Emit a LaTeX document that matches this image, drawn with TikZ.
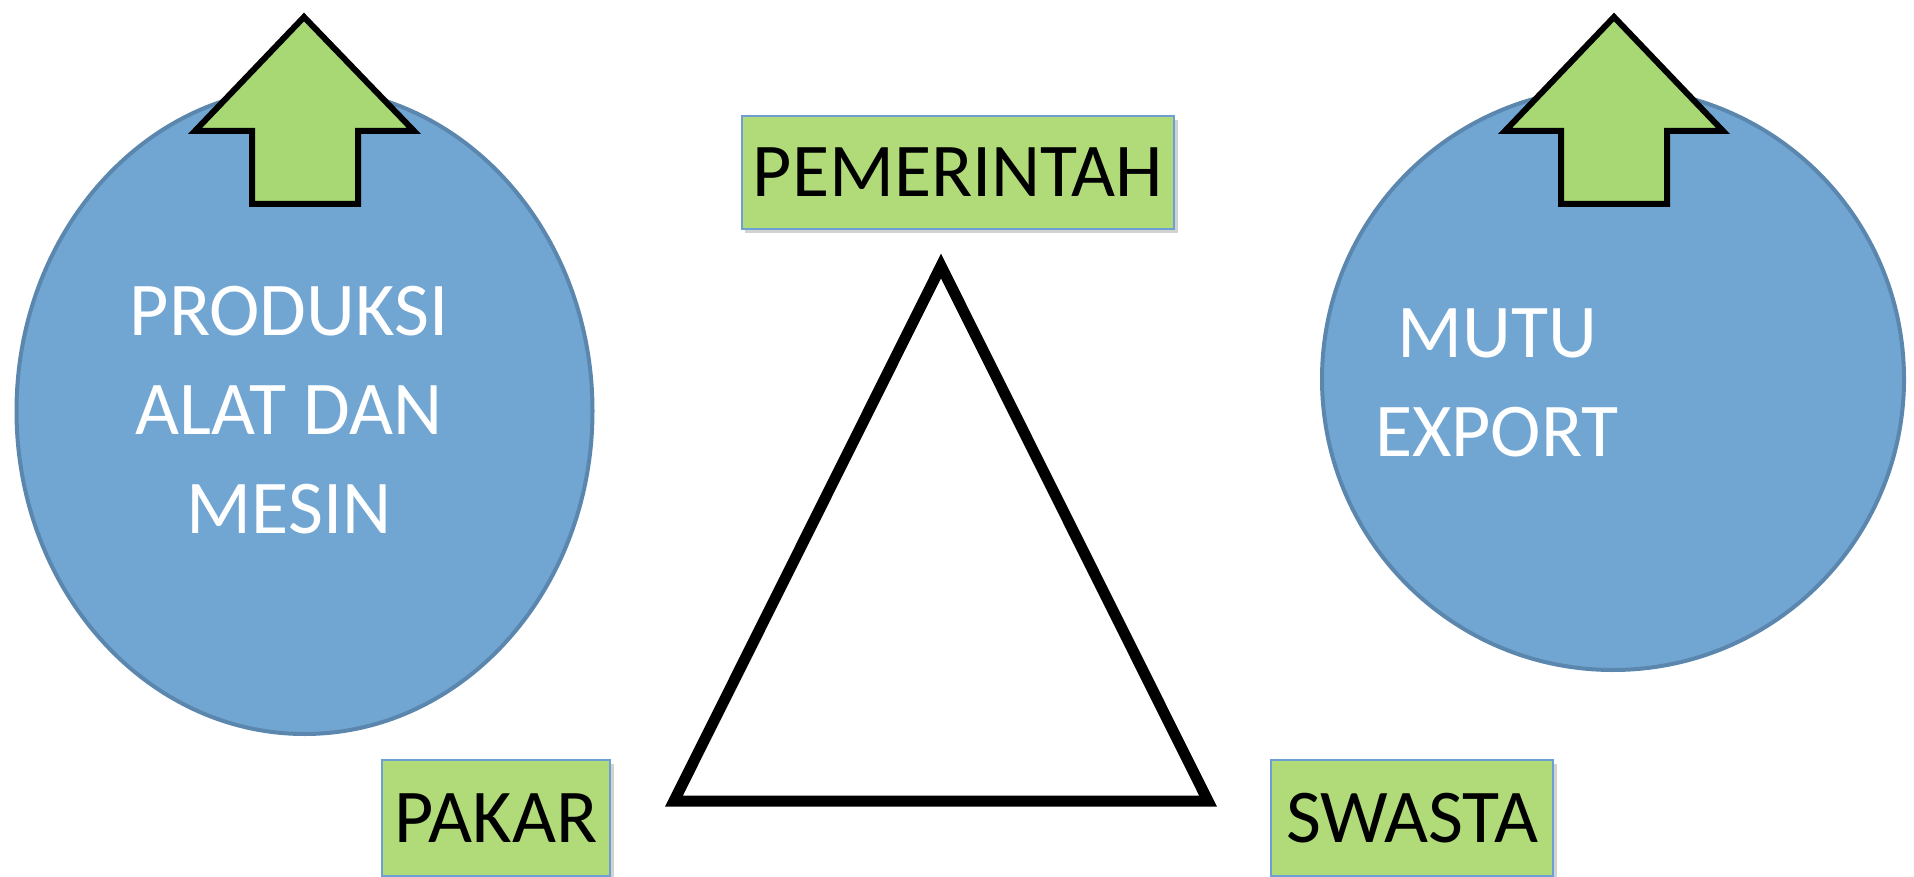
\documentclass[tikz,border=0pt]{standalone}
\usepackage{fontspec}
\setmainfont{Carlito}
\definecolor{ellfill}{HTML}{71A6D2}
\definecolor{elldraw}{HTML}{5B87AE}
\definecolor{arrfill}{HTML}{A8D873}
\definecolor{boxfill}{HTML}{B1DB78}
\definecolor{boxdraw}{HTML}{6E9FD3}
\begin{document}
\begin{tikzpicture}[x=1pt,y=-1pt,
  bigtext/.style={font=\fontsize{76}{99}\selectfont},
  blob/.style={fill=ellfill,draw=elldraw,line width=4pt},
  uparrow/.style={fill=arrfill,draw=black,line width=6pt,miter limit=10},
  labelbox/.style={fill=boxfill,draw=boxdraw,line width=1.5pt,inner sep=0pt,bigtext,text=black},
  shadowbox/.style={fill=black!35,opacity=0.5}]
\useasboundingbox (0,0) rectangle (1914,877);
% ellipses
\path[blob] (304.5,411) ellipse [x radius=288,y radius=323];
\path[blob] (1613,379) ellipse [x radius=291,y radius=291];
% arrows
\path[uparrow] (304,17) -- (414,131) -- (358,131) -- (358,204) -- (252,204) -- (252,131) -- (195,131) -- cycle;
\path[uparrow] (1614,17) -- (1723,131) -- (1667,131) -- (1667,204) -- (1561,204) -- (1561,131) -- (1505,131) -- cycle;
% ellipse texts
\node[bigtext,text=white,align=center] (prod) at (289,410) {PRODUKSI\\ALAT DAN\\MESIN};
\node[bigtext,text=white,align=center] (mutu) at (1497,383) {MUTU\\EXPORT};
% triangle
\draw[line width=11pt,miter limit=10] (941,266) coordinate (apex) -- (1208,801) coordinate (br) -- (674,801) coordinate (bl) -- cycle;
% boxes with shadows
\fill[shadowbox] (745,120) rectangle (1178,233);
\fill[shadowbox] (385,764) rectangle (614,880);
\fill[shadowbox] (1274,764) rectangle (1557,880);
\node[labelbox,minimum width=432,minimum height=113] (pem) at (958,172.5) {PEMERINTAH};
\node[labelbox,minimum width=228,minimum height=116] (pak) at (496,818) {PAKAR};
\node[labelbox,minimum width=282,minimum height=116] (swa) at (1412,818) {SWASTA};
\end{tikzpicture}
\end{document}
